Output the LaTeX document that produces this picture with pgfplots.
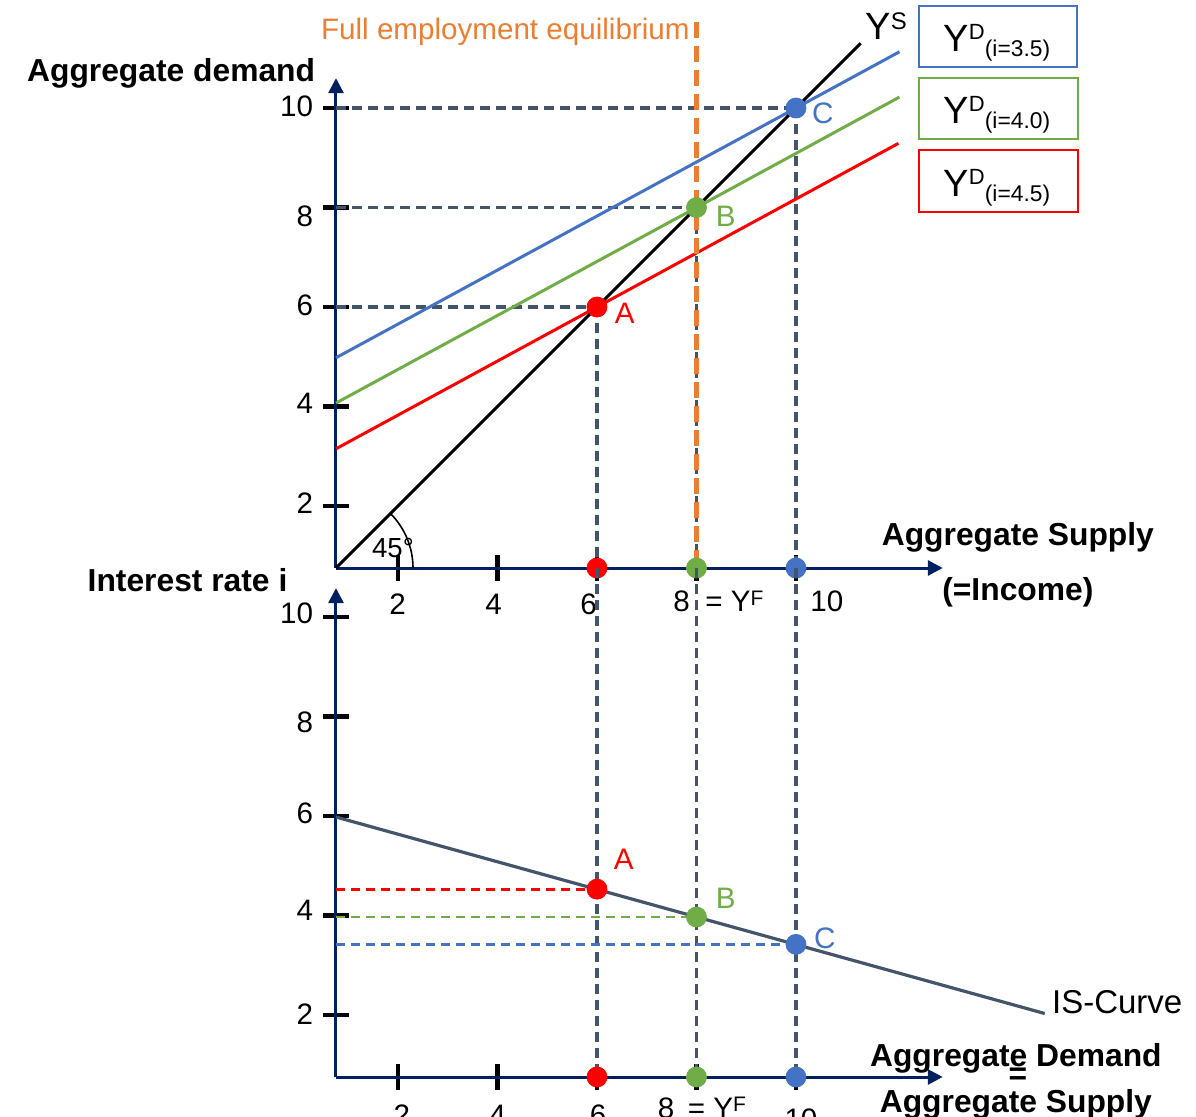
\documentclass[border=0pt]{standalone}
\usepackage{fontspec}
\setmainfont{Liberation Sans}
\usepackage{pgfplots}
\pgfplotsset{compat=1.18}
\usetikzlibrary{arrows.meta}
\definecolor{axnavy}{HTML}{002060}
\definecolor{dgray}{HTML}{44546A}
\definecolor{xorange}{HTML}{ED7D31}
\definecolor{xblue}{HTML}{4472C4}
\definecolor{xgreen}{HTML}{70AD47}
\definecolor{xred}{HTML}{FF0000}
\tikzset{
  reg/.style={font=\fontsize{14.8}{17}\selectfont, inner sep=0pt},
  bld/.style={font=\fontsize{15.9}{18}\selectfont\bfseries, inner sep=0pt},
  gdash/.style={dgray, line width=1.7pt, dash pattern=on 5pt off 3pt},
  cdash/.style={line width=1.4pt, dash pattern=on 4.5pt off 3pt},
}
\pgfplotsset{
  panel/.style={
    anchor=south west,
    x=24.875pt, y=24.875pt,
    xmin=0.754, xmax=12.95, ymin=0.754,
    enlargelimits=false,
    axis lines=left,
    axis line style={draw=axnavy, line width=1.5pt, -{Triangle[length=7.5pt,width=7.5pt]}},
    xtick={2,4,6,8,10}, ytick={2,4,6,8,10},
    xticklabels={}, yticklabels={},
    tick align=center, major tick length=12.5pt,
    tick style={black, line width=2.2pt},
    clip=false,
  },
  dot/.style={only marks, mark=*, mark size=5pt, #1, mark options={draw=#1, fill=#1}},
}
\newcommand{\YD}[1]{\fontsize{19}{20}\selectfont Y\raisebox{6pt}{\fontsize{11}{11}\selectfont D}\raisebox{-2.5pt}{\fontsize{11.4}{12}\selectfont (i=#1)}}
\newcommand{\YF}{= Y\raisebox{3.3pt}{\fontsize{10.5}{11}\selectfont F}}
\begin{document}
\begin{tikzpicture}
\useasboundingbox (0pt,0pt) rectangle (598pt,558pt);
% ================= upper panel =================
\begin{axis}[panel, at={(168pt,274pt)}, ymax=10.6]
  % guide lines
  \addplot[gdash] coordinates {(0.754,10) (10,10)};
  \addplot[gdash] coordinates {(0.754,8) (8,8)};
  \addplot[gdash] coordinates {(0.754,6) (6,6)};
  \addplot[gdash] coordinates {(6,6) (6,0.754)};
  \addplot[gdash] coordinates {(8,8) (8,0.754)};
  \addplot[gdash] coordinates {(10,10) (10,0.754)};
  % aggregate demand lines
  \addplot[xblue, line width=1.5pt] coordinates {(0.754,4.98) (10,10) (12.08,11.13)};
  \addplot[xgreen, line width=1.5pt] coordinates {(0.754,4.07) (8,8) (12.08,10.22)};
  \addplot[xred, line width=1.5pt] coordinates {(0.754,3.15) (6,6) (12.06,9.29)};
  % supply (45 degree)
  \addplot[black, line width=1.5pt] coordinates {(0.754,0.754) (11.3,11.3)};
  % full employment
  \addplot[xorange, line width=2.3pt, dash pattern=on 8pt off 4pt] coordinates {(8,11.73) (8,0.754)};
  % points
  \addplot[dot=xred] coordinates {(6,6) (6,0.754)};
  \addplot[dot=xgreen] coordinates {(8,8) (8,0.754)};
  \addplot[dot=xblue] coordinates {(10,10) (10,0.754)};
  % 45 degree arc
  \draw[black, line width=0.8pt] (axis cs:0.754,0.754) ++(38.5pt,0pt) arc[start angle=0, end angle=45, radius=38.5pt];
  \node[font=\fontsize{13.8}{15}\selectfont, inner sep=0pt, anchor=base] at (axis cs:1.90,0.97) {45°};
  % tick labels
  \node[reg, anchor=east] at (axis cs:0.3,10.03) {10};
  \node[reg, anchor=east] at (axis cs:0.3,7.82) {8};
  \node[reg, anchor=east] at (axis cs:0.3,6.04) {6};
  \node[reg, anchor=east] at (axis cs:0.3,4.07) {4};
  \node[reg, anchor=east] at (axis cs:0.3,2.06) {2};
  \node[reg, anchor=base] at (axis cs:1.99,-0.19) {2};
  \node[reg, anchor=base] at (axis cs:3.92,-0.19) {4};
  \node[reg, anchor=base] at (axis cs:5.83,-0.19) {6};
  \node[reg, anchor=base] at (axis cs:7.70,-0.125) {8};
  \node[reg, anchor=base west] at (axis cs:8.17,-0.125) {\YF};
  \node[reg, anchor=base] at (axis cs:10.62,-0.125) {10};
  % point labels
  \node[reg, text=xblue] at (axis cs:10.54,9.9) {C};
  \node[reg, text=xgreen] at (axis cs:8.59,7.83) {B};
  \node[reg, text=xred] at (axis cs:6.56,5.88) {A};
  % axis titles
  \node[bld, anchor=base] at (axis cs:-2.56,10.53) {Aggregate demand};
  \node[bld, anchor=base] at (axis cs:14.46,1.216) {Aggregate Supply};
  \node[bld, anchor=base] at (axis cs:14.46,0.11) {(=Income)};
  \node[reg, text=xorange, anchor=base east] at (axis cs:7.87,11.37) {Full employment equilibrium};
  \node[inner sep=0pt, anchor=base west, font=\fontsize{19}{20}\selectfont] at (axis cs:11.39,11.37) {Y\raisebox{5pt}{\fontsize{12}{12}\selectfont S}};
  % legend boxes
  \node[draw=xblue, line width=1pt, minimum width=79pt, minimum height=30.5pt, inner sep=0pt] at (axis cs:14.06,11.44) {};
  \node[draw=xgreen, line width=1pt, minimum width=79.5pt, minimum height=30.5pt, inner sep=0pt] at (axis cs:14.07,9.99) {};
  \node[draw=xred, line width=1pt, minimum width=79.5pt, minimum height=31pt, inner sep=0pt] at (axis cs:14.07,8.54) {};
  \node[inner sep=0pt, anchor=base west] at (axis cs:12.96,11.13) {\YD{3.5}};
  \node[inner sep=0pt, anchor=base west] at (axis cs:12.96,9.68) {\YD{4.0}};
  \node[inner sep=0pt, anchor=base west] at (axis cs:12.96,8.23) {\YD{4.5}};
\end{axis}
% ================= lower panel =================
\begin{axis}[panel, at={(168pt,19.5pt)}, ymax=10.58]
  % vertical guides continuing from the upper panel
  \addplot[gdash] coordinates {(6,10.98) (6,0.754)};
  \addplot[gdash] coordinates {(8,10.98) (8,0.754)};
  \addplot[gdash] coordinates {(10,10.98) (10,0.754)};
  % interest rate levels
  \addplot[xred, cdash] coordinates {(0.754,4.53) (6,4.53)};
  \addplot[xgreen, cdash] coordinates {(0.754,3.97) (8,3.97)};
  \addplot[xblue, cdash] coordinates {(0.754,3.42) (10,3.42)};
  % IS curve
  \addplot[dgray, line width=1.6pt] coordinates {(0.754,5.98) (15,2.03)};
  % points
  \addplot[dot=xred] coordinates {(6,4.53) (6,0.754)};
  \addplot[dot=xgreen] coordinates {(8,3.97) (8,0.754)};
  \addplot[dot=xblue] coordinates {(10,3.42) (10,0.754)};
  % tick labels
  \node[reg, anchor=east] at (axis cs:0.3,10.07) {10};
  \node[reg, anchor=east] at (axis cs:0.3,7.89) {8};
  \node[reg, anchor=east] at (axis cs:0.3,6.06) {6};
  \node[reg, anchor=east] at (axis cs:0.3,4.11) {4};
  \node[reg, anchor=east] at (axis cs:0.3,2.02) {2};
  \node[reg, anchor=base] at (axis cs:2.08,-0.22) {2};
  \node[reg, anchor=base] at (axis cs:4.0,-0.22) {4};
  \node[reg, anchor=base] at (axis cs:6.02,-0.22) {6};
  \node[reg, anchor=base] at (axis cs:7.39,-0.08) {8};
  \node[reg, anchor=base west] at (axis cs:7.82,-0.08) {\YF};
  \node[reg, anchor=base] at (axis cs:10.1,-0.3) {10};
  % point labels
  \node[reg, text=xred] at (axis cs:6.54,5.12) {A};
  \node[reg, text=xgreen] at (axis cs:8.59,4.35) {B};
  \node[reg, text=xblue] at (axis cs:10.58,3.55) {C};
  % titles
  \node[bld, anchor=base] at (axis cs:-2.23,10.51) {Interest rate i};
  \node[font=\fontsize{16.5}{18}\selectfont, inner sep=0pt, anchor=base west] at (axis cs:15.14,2.04) {IS-Curve};
  \node[bld, anchor=base] at (axis cs:14.42,0.975) {Aggregate Demand};
  \node[bld] at (axis cs:14.46,0.774) {=};
  \node[bld, anchor=base] at (axis cs:14.42,0.05) {Aggregate Supply};
\end{axis}
\end{tikzpicture}
\end{document}
